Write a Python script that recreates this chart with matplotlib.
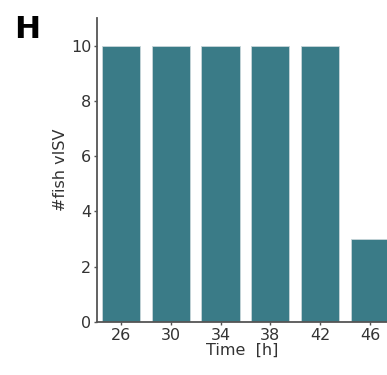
import matplotlib
matplotlib.use("Agg")
import matplotlib.pyplot as plt

categories = ["26", "30", "34", "38", "42", "46"]
values = [10, 10, 10, 10, 10, 3]

plt.rcParams['font.family'] = ['DejaVu Sans']

fig = plt.figure(figsize=(3.87, 3.75), dpi=100)
W, H = 387, 375
left_px, right_px, bottom_px, top_px = 97, 387, 322, 18
ax = fig.add_axes([left_px / W, (H - bottom_px) / H, (right_px - left_px) / W, (bottom_px - top_px) / H])

x = list(range(len(categories)))
ax.bar(x, values, width=0.77, color="#3a7b87", edgecolor="#c8d6d9", linewidth=0.6)

unit = 49.8
ax.set_xlim(-0.48, -0.48 + (right_px - left_px) / unit)
ax.set_ylim(0, 11.0)
ax.set_xticks(x)
ax.set_xticklabels(categories)
ax.set_yticks([0, 2, 4, 6, 8, 10])

for s in ["top", "right"]:
    ax.spines[s].set_visible(False)
for s in ["left", "bottom"]:
    ax.spines[s].set_color("#555555")
    ax.spines[s].set_linewidth(1.3)

ax.tick_params(axis="both", colors="#555555", labelcolor="#333333", labelsize=11.5, length=2.5, width=1.0, pad=1.5)
ax.set_xlabel("Time  [h]", fontsize=11.5, color="#333333", labelpad=0)
ax.set_ylabel("#fish vISV", fontsize=11.5, color="#333333", labelpad=2)

fig.text(14 / W, 1 - 38 / H, "H", fontsize=22.5, fontweight="bold", color="black", va="baseline")

fig.savefig("out.png", dpi=100)
